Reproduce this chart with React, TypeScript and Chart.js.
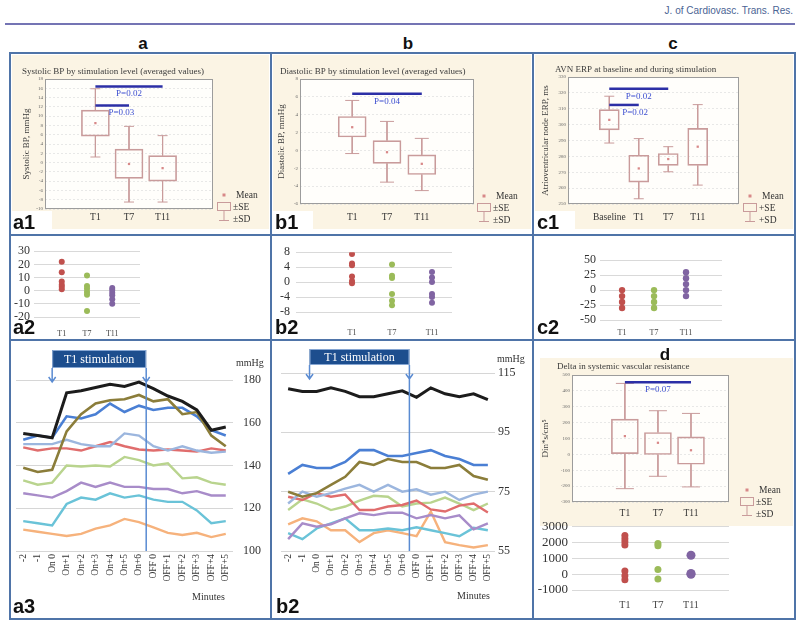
import React, { useEffect, useRef } from "react";
import { Chart, registerables } from "chart.js";

Chart.register(...registerables);

const SERIF = "'Liberation Serif', 'Times New Roman', serif";
const SANS = "'Liberation Sans', Arial, sans-serif";

// ================= DATA =================
const boxCategories = ["T1", "T7", "T11"];
const avnCategories = ["Baseline", "T1", "T7", "T11"];

// a1 – systolic BP by stimulation level
const sysMean = [8.5, -0.3, -1.2];
const sysSeLow = [5.7, -3.4, -4.0];
const sysSeHigh = [11.3, 2.9, 1.5];
const sysSdLow = [1.2, -8.5, -8.5];
const sysSdHigh = [15.9, 7.8, 5.8];
const sysTicks = [-10, -8, -6, -4, -2, 0, 2, 4, 6, 8, 10, 12, 14, 16, 18];
const sysSig = [
  { from: 0, to: 2, level: 16.4, p: "P=0.02" },
  { from: 0, to: 1, level: 12.3, p: "P=0.03" },
];

// b1 – diastolic BP by stimulation level
const diaMean = [2.6, -0.2, -1.5];
const diaSeLow = [1.5, -1.45, -2.7];
const diaSeHigh = [3.8, 1.1, -0.5];
const diaSdLow = [-0.35, -3.55, -4.5];
const diaSdHigh = [5.6, 3.25, 1.35];
const diaTicks = [-6, -4, -2, 0, 2, 4, 6, 8];
const diaSig = [{ from: 0, to: 2, level: 6.35, p: "P=0.04" }];

// c1 – AVN ERP
const avnMean = [303, 272.4, 278.3, 286.1];
const avnSeLow = [296.7, 263.8, 274.3, 274.3];
const avnSeHigh = [309.4, 280.7, 281.8, 297.6];
const avnSdLow = [288.4, 253.3, 270.3, 261.9];
const avnSdHigh = [317.9, 291.2, 286.1, 312.6];
const avnTicks = [250, 260, 270, 280, 290, 300, 310, 320, 330];
const avnSig = [
  { from: 0, to: 2, level: 322.6, p: "P=0.02" },
  { from: 0, to: 1, level: 312.4, p: "P=0.02" },
];

// d – delta in systemic vascular resistance
const svrMean = [115, 73, 26];
const svrSeLow = [5, -1, -62];
const svrSeHigh = [222, 138, 110];
const svrSdLow = [-216, -138, -205];
const svrSdHigh = [447, 275, 258];
const svrTicks = [-300, -200, -100, 0, 100, 200, 300, 400, 500];
const svrSig = [{ from: 0, to: 2, level: 454, p: "P=0.07" }];

// a2 – individual systolic deltas
const a2T1 = [22, 14, 7, 4.5, 3, 1];
const a2T7 = [11.5, 3.5, 1.5, -1, -3, -15.5];
const a2T11 = [2, 0.5, -1.5, -3.5, -6.5, -10];
const a2Ticks = [-20, -10, 0, 10, 20, 30];

// b2 – individual diastolic deltas
const b2T1 = [7.5, 5, 4.5, 1.5, 0.3, -0.3];
const b2T7 = [4.7, 1.7, 1.1, -3.2, -5, -6.2];
const b2T11 = [2.7, 1.2, 0, -3.2, -4, -5.5];
const b2Ticks = [-8, -4, 0, 4, 8];

// c2 – individual AVN ERP deltas
const c2T1 = [0, -10, -20, -30];
const c2T7 = [0, -10, -20, -30];
const c2T11 = [30, 20, 10, 0, -10];
const c2Ticks = [-50, -25, 0, 25, 50];

// d – individual SVR deltas
const dT1 = [2450, 2250, 2050, 1850, 200, -100, -350];
const dT7 = [1950, 1800, 300, -300];
const dT11 = [1200, 50, 0];
const dTicks = [-1000, 0, 1000, 2000, 3000];

// a3 / b3 – minute-by-minute traces
const minutes = [
  "-2", "-1", "On 0", "On+1", "On+2", "On+3", "On+4", "On+5", "On+6",
  "OFF 0", "OFF+1", "OFF+2", "OFF+3", "OFF+4", "OFF+5",
];
const sysBlack = [155, 154, 153, 174, 175, 176.5, 178, 177, 179, 176, 172.5, 170, 166, 156.5, 158];
const sysOlive = [139, 137, 138, 156, 164, 169, 170.5, 171, 173, 170, 171, 164, 165, 154, 149];
const sysBlue = [152, 154, 153, 163, 162, 164, 169, 165, 168, 166, 167, 167, 163, 156.5, 154];
const sysLightBlue = [150, 150, 150, 152, 150, 149, 149, 155, 154, 149, 147, 149, 147, 146, 146.5];
const sysRed = [148.5, 147, 148, 148, 147, 149, 151, 149, 147.5, 147, 147.5, 147, 146.5, 148, 147];
const sysGreen = [133, 131, 132, 140, 139.5, 140, 139.5, 144, 142.5, 140, 141, 134, 134.5, 132, 131];
const sysPurple = [127, 126, 125, 128, 132, 130, 132, 130, 130, 129, 129, 127, 128, 126, 126];
const sysTeal = [114, 113, 112, 122, 125, 124, 127, 125, 126, 124, 123, 123, 119, 113, 114];
const sysOrange = [110, 109, 108, 107, 108, 110.5, 112, 115, 113.5, 111, 108.5, 107.5, 108.5, 106.5, 108];
const sysTraceTicks = [100, 120, 140, 160, 180];

const diaBlack = [109.7, 108.8, 108.8, 110, 108.8, 107, 107, 108, 109, 106.8, 110, 108, 107, 108, 106];
const diaBlue = [81, 84, 83, 83, 85, 89, 89, 87, 87, 88, 89, 87, 86, 84, 84];
const diaOlive = [75, 73.3, 74.5, 77.3, 80, 85, 84, 86, 85, 85, 83, 83, 84, 80.3, 79];
const diaLightBlue = [71, 75, 73.3, 74.5, 76, 77.3, 75, 77.3, 75, 75.8, 74, 75, 72.2, 74, 75];
const diaRed = [73.3, 72.2, 74.5, 73.3, 74, 68.8, 68.8, 70, 70.5, 72, 69, 68.3, 70.3, 71, 68];
const diaGreen = [68.8, 72.4, 71, 68.8, 70, 72, 73.6, 73.3, 70, 71, 71.3, 73, 71, 68.8, 71];
const diaPurple = [59, 64.3, 63.2, 64, 66, 67.7, 67.1, 67.9, 67.9, 66, 67.1, 66, 67, 62.3, 64.3];
const diaTeal = [61, 59, 62.6, 64.3, 66, 62, 62, 62.6, 62, 63, 62, 61, 60, 62.8, 62];
const diaOrange = [64, 66, 65, 62, 62, 58, 61, 62, 61, 60, 68.3, 58, 57, 56.2, 57];
const diaTraceTicks = [55, 75, 95, 115];

// ================= STYLES =================
const BOX_COLOR = "#c99b9b";
const MEAN_COLOR = "#d88888";
const SIG_LINE = "#2c2fa6";
const SIG_TEXT = "#3d4fd0";
const BEIGE = "#fbf4e4";
const FRAME = "#4f74a8";
const DOT_COLORS = ["#c0504d", "#9bbb59", "#8064a2"];
const TRACE_COLORS = ["#1c1c1c", "#8b7d3a", "#4a7fd4", "#9cb6de", "#e06d6d", "#b9d48e", "#a88cc9", "#6ac3d8", "#f6b27c"];
const TRACE_WIDTHS = [3, 2.6, 2.6, 2.4, 2.4, 2.4, 2.4, 2.4, 2.4];

// ================= COMPONENTS =================
function BoxPanel(props: any) {
  const { cats, mean, seLo, seHi, sdLo, sdHi, ticks, sig, title, yTitle, pm, g } = props;
  const ref = useRef<HTMLCanvasElement>(null);
  useEffect(() => {
    const a = g.area;
    const ppu = (a.r - a.l) / (g.xMax - g.xMin);
    const cap = g.capPx / ppu;
    const xs = cats.map((_: string, i: number) => i + 1);
    const boxData = xs.map((x: number, i: number) => ({ x, y: [seLo[i], seHi[i]] }));
    const meanData = xs.map((x: number, i: number) => ({ x, y: mean[i] }));
    const whisk: any[] = [];
    xs.forEach((x: number, i: number) => {
      whisk.push(
        { x, y: sdHi[i] }, { x, y: seHi[i] }, { x, y: null },
        { x, y: seLo[i] }, { x, y: sdLo[i] }, { x, y: null },
        { x: x - cap, y: sdHi[i] }, { x: x + cap, y: sdHi[i] }, { x, y: null },
        { x: x - cap, y: sdLo[i] }, { x: x + cap, y: sdLo[i] }, { x, y: null }
      );
    });
    const sigSets = sig.map((s: any) => ({
      type: "line",
      data: [{ x: s.from + 1, y: s.level }, { x: s.to + 1, y: s.level }],
      borderColor: SIG_LINE,
      borderWidth: 2.5,
      pointRadius: 0,
    }));
    const deco = {
      id: "deco",
      beforeDraw(chart: any) {
        const { ctx, chartArea: c } = chart;
        ctx.save();
        ctx.fillStyle = "#fffefb";
        ctx.fillRect(c.left, c.top, c.right - c.left, c.bottom - c.top);
        ctx.restore();
      },
      afterDraw(chart: any) {
        const { ctx, chartArea: c, scales } = chart;
        const X = scales.x;
        const Y = scales.y;
        ctx.save();
        ctx.strokeStyle = "#9c9c9c";
        ctx.lineWidth = 1;
        ctx.strokeRect(c.left + 0.5, c.top + 0.5, c.right - c.left - 1, c.bottom - c.top - 1);
        ctx.fillStyle = "#3b3b3b";
        ctx.font = `9px ${SERIF}`;
        ctx.textBaseline = "middle";
        ctx.textAlign = "left";
        ctx.fillText(title, g.titleX - g.left, g.titleY - g.top);
        ctx.save();
        ctx.translate(g.yTitleX - g.left, (c.top + c.bottom) / 2);
        ctx.rotate(-Math.PI / 2);
        ctx.textAlign = "center";
        ctx.fillText(yTitle, 0, 0);
        ctx.restore();
        ctx.fillStyle = SIG_TEXT;
        ctx.font = `9px ${SERIF}`;
        ctx.textAlign = "center";
        sig.forEach((s: any) => {
          const x1 = X.getPixelForValue(s.from + 1);
          const x2 = X.getPixelForValue(s.to + 1);
          const w = ctx.measureText(s.p).width;
          const cx = Math.max((x1 + x2) / 2, x1 + w / 2 + 13);
          ctx.fillText(s.p, cx, Y.getPixelForValue(s.level) + 7.5);
        });
        // legend
        const lx = g.legendX - g.left;
        const ly = g.legendY - g.top;
        ctx.fillStyle = MEAN_COLOR;
        ctx.fillRect(lx - 1.5, ly - 1.5, 3, 3);
        ctx.strokeStyle = BOX_COLOR;
        ctx.lineWidth = 1;
        ctx.strokeRect(lx - 6.5, ly + 7.5, 13, 8);
        ctx.beginPath();
        ctx.moveTo(lx, ly + 15.5);
        ctx.lineTo(lx, ly + 25.5);
        ctx.moveTo(lx - 5, ly + 25.5);
        ctx.lineTo(lx + 5, ly + 25.5);
        ctx.stroke();
        ctx.fillStyle = "#333";
        ctx.textAlign = "left";
        ctx.font = `9.5px ${SERIF}`;
        ctx.fillText("Mean", lx + 12, ly);
        ctx.fillText(pm + "SE", lx + 9, ly + 12);
        ctx.fillText(pm + "SD", lx + 9, ly + 24);
        ctx.restore();
      },
    };
    const chart = new Chart(ref.current as HTMLCanvasElement, {
      type: "bar",
      data: {
        datasets: [
          ...sigSets,
          {
            type: "line",
            data: meanData,
            showLine: false,
            pointStyle: "rect",
            pointRadius: 1.6,
            pointBackgroundColor: MEAN_COLOR,
            pointBorderColor: MEAN_COLOR,
            pointBorderWidth: 0,
          },
          {
            type: "line",
            data: whisk,
            borderColor: BOX_COLOR,
            borderWidth: 1,
            pointRadius: 0,
            spanGaps: false,
          },
          {
            type: "bar",
            data: boxData,
            backgroundColor: "rgba(255,255,255,0)",
            borderColor: BOX_COLOR,
            borderWidth: 1,
            borderSkipped: false,
            barThickness: g.boxW,
          },
        ] as any,
      },
      options: {
        animation: false,
        responsive: false,
        maintainAspectRatio: false,
        events: [],
        layout: { padding: { left: 0, top: a.t - g.top, right: g.left + g.width - a.r, bottom: 0 } },
        plugins: { legend: { display: false }, tooltip: { enabled: false } },
        scales: {
          x: {
            type: "linear",
            min: g.xMin,
            max: g.xMax,
            offset: false,
            afterBuildTicks: (s: any) => {
              s.ticks = xs.map((v: number) => ({ value: v }));
            },
            afterFit: (s: any) => {
              s.height = g.top + g.height - a.b;
            },
            ticks: {
              callback: (v: any) => cats[Math.round(v) - 1] ?? "",
              font: { family: SERIF, size: 9.5 },
              color: "#333",
              padding: g.xLabelY - a.b - 5.5,
              maxRotation: 0,
              autoSkip: false,
            },
            grid: { display: false, drawTicks: false },
            border: { display: false },
          },
          y: {
            type: "linear",
            min: ticks[0],
            max: ticks[ticks.length - 1],
            afterBuildTicks: (s: any) => {
              s.ticks = ticks.map((v: number) => ({ value: v }));
            },
            afterFit: (s: any) => {
              s.width = a.l - g.left;
            },
            ticks: {
              font: { family: SERIF, size: 5 },
              color: "#666",
              padding: 2,
              autoSkip: false,
              callback: (v: any) => String(v),
            },
            grid: { color: "#dedede", lineWidth: 0.7, drawTicks: false },
            border: { display: false, dash: [2, 2] },
          },
        },
      } as any,
      plugins: [deco],
    });
    return () => chart.destroy();
  }, []);
  return (
    <canvas
      ref={ref}
      width={g.width}
      height={g.height}
      style={{ position: "absolute", left: g.left, top: g.top, width: g.width, height: g.height }}
    />
  );
}

function ScatterPanel(props: any) {
  const { cats, series, ticks, g } = props;
  const ref = useRef<HTMLCanvasElement>(null);
  useEffect(() => {
    const a = g.area;
    const datasets = series.map((vals: number[], i: number) => ({
      type: "scatter",
      data: vals.map((v) => ({ x: i + 1, y: v })),
      pointRadius: g.radius[i],
      pointBackgroundColor: DOT_COLORS[i],
      pointBorderColor: DOT_COLORS[i],
      pointBorderWidth: 0,
    }));
    const chart = new Chart(ref.current as HTMLCanvasElement, {
      type: "scatter",
      data: { datasets },
      options: {
        animation: false,
        responsive: false,
        maintainAspectRatio: false,
        events: [],
        layout: { padding: { left: 0, top: a.t - g.top, right: g.left + g.width - a.r, bottom: 0 } },
        plugins: { legend: { display: false }, tooltip: { enabled: false } },
        scales: {
          x: {
            type: "linear",
            min: g.xMin,
            max: g.xMax,
            afterBuildTicks: (s: any) => {
              s.ticks = cats.map((_: string, i: number) => ({ value: i + 1 }));
            },
            afterFit: (s: any) => {
              s.height = g.top + g.height - a.b;
            },
            ticks: {
              callback: (v: any) => cats[Math.round(v) - 1] ?? "",
              font: { family: SERIF, size: g.xFont },
              color: "#444",
              padding: g.xLabelY - a.b - g.xFont * 0.6,
              maxRotation: 0,
              autoSkip: false,
            },
            grid: { display: false, drawTicks: false },
            border: { display: false },
          },
          y: {
            type: "linear",
            min: ticks[0],
            max: ticks[ticks.length - 1],
            afterBuildTicks: (s: any) => {
              s.ticks = ticks.map((v: number) => ({ value: v }));
            },
            afterFit: (s: any) => {
              s.width = a.l - g.left;
            },
            ticks: {
              font: { family: SERIF, size: g.yFont },
              color: "#333",
              padding: g.yPad,
              autoSkip: false,
              callback: (v: any) => String(v),
            },
            grid: { color: "#d9d9d9", drawTicks: false },
            border: { display: false },
          },
        },
      } as any,
    });
    return () => chart.destroy();
  }, []);
  return (
    <canvas
      ref={ref}
      width={g.width}
      height={g.height}
      style={{ position: "absolute", left: g.left, top: g.top, width: g.width, height: g.height }}
    />
  );
}

function TracePanel(props: any) {
  const { labels, series, ticks, g, stim } = props;
  const ref = useRef<HTMLCanvasElement>(null);
  useEffect(() => {
    const a = g.area;
    const datasets = series.map((vals: number[], i: number) => ({
      type: "line",
      data: vals,
      borderColor: TRACE_COLORS[i],
      borderWidth: TRACE_WIDTHS[i],
      pointRadius: 0,
      tension: 0,
      fill: false,
    }));
    const stimPlugin = {
      id: "stim",
      afterDraw(chart: any) {
        const { ctx, chartArea: c, scales } = chart;
        const X = scales.x;
        const xl = X.getPixelForValue(stim.from);
        const xr = X.getPixelForValue(stim.to);
        const bt = c.top - stim.boxTop;
        const bb = c.top - stim.boxBottom;
        const tip = c.top + stim.tip;
        ctx.save();
        ctx.strokeStyle = "#5a8bd2";
        ctx.lineWidth = 1.5;
        ctx.beginPath();
        ctx.moveTo(xr, bb);
        ctx.lineTo(xr, c.bottom);
        ctx.moveTo(xl, bb);
        ctx.lineTo(xl, tip);
        [xl, xr].forEach((x) => {
          ctx.moveTo(x - 3.5, tip - 5);
          ctx.lineTo(x, tip);
          ctx.lineTo(x + 3.5, tip - 5);
        });
        ctx.stroke();
        ctx.fillStyle = "#1d4e8e";
        ctx.fillRect(xl, bt, xr - xl, bb - bt);
        ctx.strokeStyle = "#86a6d2";
        ctx.lineWidth = 1;
        ctx.strokeRect(xl + 0.5, bt + 0.5, xr - xl - 1, bb - bt - 1);
        ctx.fillStyle = "#ffffff";
        ctx.font = `12px ${SERIF}`;
        ctx.textAlign = "center";
        ctx.textBaseline = "middle";
        ctx.fillText("T1 stimulation", (xl + xr) / 2, (bt + bb) / 2 + 0.5);
        ctx.restore();
      },
    };
    const chart = new Chart(ref.current as HTMLCanvasElement, {
      type: "line",
      data: { labels, datasets },
      options: {
        animation: false,
        responsive: false,
        maintainAspectRatio: false,
        events: [],
        layout: { padding: { left: a.l - g.left, top: a.t - g.top, right: 0, bottom: 0 } },
        plugins: { legend: { display: false }, tooltip: { enabled: false } },
        scales: {
          x: {
            type: "category",
            offset: true,
            afterFit: (s: any) => {
              s.height = g.top + g.height - a.b;
            },
            ticks: {
              font: { family: SERIF, size: 9.5 },
              color: "#333",
              minRotation: 90,
              maxRotation: 90,
              autoSkip: false,
              padding: 3,
            },
            grid: { display: false, drawTicks: false },
            border: { display: false },
          },
          y: {
            type: "linear",
            position: "right",
            min: ticks[0],
            max: ticks[ticks.length - 1],
            afterBuildTicks: (s: any) => {
              s.ticks = ticks.map((v: number) => ({ value: v }));
            },
            afterFit: (s: any) => {
              s.width = g.left + g.width - a.r;
            },
            ticks: {
              font: { family: SERIF, size: 12 },
              color: "#333",
              padding: g.yPad,
              autoSkip: false,
              callback: (v: any) => String(v),
            },
            grid: { color: "#d6d6d6", drawTicks: false },
            border: { display: false },
          },
        },
      } as any,
      plugins: [stimPlugin],
    });
    return () => chart.destroy();
  }, []);
  return (
    <canvas
      ref={ref}
      width={g.width}
      height={g.height}
      style={{ position: "absolute", left: g.left, top: g.top, width: g.width, height: g.height }}
    />
  );
}

function Txt(props: any) {
  const { x, y, size, bold, family, color, children, center } = props;
  return (
    <div
      style={{
        position: "absolute",
        left: x,
        top: y,
        fontSize: size,
        fontWeight: bold ? 700 : 400,
        fontFamily: family || SANS,
        color: color || "#111",
        lineHeight: 1,
        whiteSpace: "nowrap",
        transform: center ? "translate(-50%, -50%)" : undefined,
      }}
    >
      {children}
    </div>
  );
}

function Rect(props: any) {
  const { l, t, w, h, bg } = props;
  return <div style={{ position: "absolute", left: l, top: t, width: w, height: h, background: bg }} />;
}

export default function App() {
  return (
    <div
      style={{
        position: "absolute",
        left: 0,
        top: 0,
        width: 800,
        height: 626,
        background: "#ffffff",
        overflow: "hidden",
        fontFamily: SANS,
      }}
    >
      {/* header */}
      <div
        style={{
          position: "absolute",
          right: 7,
          top: 5,
          fontSize: 10,
          fontFamily: SANS,
          color: "#4b6494",
          whiteSpace: "nowrap",
        }}
      >
        J. of Cardiovasc. Trans. Res.
      </div>
      <Rect l={5} t={23} w={790} h={2} bg="#7474b4" />
      <Txt x={143} y={43} size={17} bold center>a</Txt>
      <Txt x={408} y={43} size={17} bold center>b</Txt>
      <Txt x={673} y={43} size={17} bold center>c</Txt>

      {/* beige backgrounds */}
      <Rect l={12} t={55} w={257} h={174} bg={BEIGE} />
      <Rect l={273} t={55} w={258} h={174} bg={BEIGE} />
      <Rect l={535} t={55} w={258} h={174} bg={BEIGE} />
      <Rect l={540} t={358} w={253} h={168} bg={BEIGE} />

      {/* row 1 box plots */}
      <BoxPanel
        cats={boxCategories}
        mean={sysMean}
        seLo={sysSeLow}
        seHi={sysSeHigh}
        sdLo={sysSdLow}
        sdHi={sysSdHigh}
        ticks={sysTicks}
        sig={sysSig}
        title="Systolic BP by stimulation level (averaged values)"
        yTitle="Systolic BP, mmHg"
        pm="±"
        g={{
          left: 12, top: 55, width: 257, height: 174,
          area: { l: 45, t: 79, r: 213, b: 209 },
          xMin: -0.5, xMax: 4.5, boxW: 28, capPx: 5, xLabelY: 217,
          titleX: 22, titleY: 72, yTitleX: 27, legendX: 224, legendY: 195,
        }}
      />
      <BoxPanel
        cats={boxCategories}
        mean={diaMean}
        seLo={diaSeLow}
        seHi={diaSeHigh}
        sdLo={diaSdLow}
        sdHi={diaSdHigh}
        ticks={diaTicks}
        sig={diaSig}
        title="Diastolic BP by stimulation level (averaged values)"
        yTitle="Diastolic BP, mmHg"
        pm="±"
        g={{
          left: 273, top: 55, width: 258, height: 174,
          area: { l: 300, t: 79, r: 474, b: 204 },
          xMin: -0.5, xMax: 4.5, boxW: 28, capPx: 7, xLabelY: 217,
          titleX: 280, titleY: 72, yTitleX: 282, legendX: 484, legendY: 196,
        }}
      />
      <BoxPanel
        cats={avnCategories}
        mean={avnMean}
        seLo={avnSeLow}
        seHi={avnSeHigh}
        sdLo={avnSdLow}
        sdHi={avnSdHigh}
        ticks={avnTicks}
        sig={avnSig}
        title="AVN ERP at baseline and during stimulation"
        yTitle="Atrioventricular node ERP, ms"
        pm="+"
        g={{
          left: 535, top: 55, width: 258, height: 174,
          area: { l: 568, t: 77, r: 739, b: 204 },
          xMin: -0.4, xMax: 5.4, boxW: 20, capPx: 5, xLabelY: 217,
          titleX: 555, titleY: 70, yTitleX: 546, legendX: 750, legendY: 196,
        }}
      />

      {/* row 2 dot plots */}
      <ScatterPanel
        cats={boxCategories}
        series={[a2T1, a2T7, a2T11]}
        ticks={a2Ticks}
        g={{
          left: 10, top: 240, width: 137, height: 98,
          area: { l: 34, t: 250, r: 140, b: 317 },
          xMin: -0.1, xMax: 4.1, radius: [3, 3, 3], xFont: 8, yFont: 12, yPad: 4, xLabelY: 334,
        }}
      />
      <ScatterPanel
        cats={boxCategories}
        series={[b2T1, b2T7, b2T11]}
        ticks={b2Ticks}
        g={{
          left: 273, top: 239, width: 185, height: 99,
          area: { l: 296, t: 249, r: 452, b: 312 },
          xMin: -0.4, xMax: 3.5, radius: [3, 3, 3], xFont: 8, yFont: 12, yPad: 6, xLabelY: 333,
        }}
      />
      <ScatterPanel
        cats={boxCategories}
        series={[c2T1, c2T7, c2T11]}
        ticks={c2Ticks}
        g={{
          left: 560, top: 249, width: 168, height: 90,
          area: { l: 600, t: 259, r: 722, b: 320 },
          xMin: 0.31, xMax: 4.125, radius: [3.2, 3.2, 3.2], xFont: 8, yFont: 12, yPad: 4, xLabelY: 333,
        }}
      />

      {/* row 3 traces */}
      <TracePanel
        labels={minutes}
        series={[sysBlack, sysOlive, sysBlue, sysLightBlue, sysRed, sysGreen, sysPurple, sysTeal, sysOrange]}
        ticks={sysTraceTicks}
        stim={{ from: 2, to: 8.5, boxTop: 30, boxBottom: 12, tip: 2 }}
        g={{ left: 12, top: 345, width: 258, height: 248, area: { l: 16, t: 380, r: 233, b: 551 }, yPad: 10 }}
      />
      <TracePanel
        labels={minutes}
        series={[diaBlack, diaOlive, diaBlue, diaLightBlue, diaRed, diaGreen, diaPurple, diaTeal, diaOrange]}
        ticks={diaTraceTicks}
        stim={{ from: 1.5, to: 8.5, boxTop: 24, boxBottom: 8, tip: 6 }}
        g={{ left: 276, top: 345, width: 256, height: 248, area: { l: 281, t: 373, r: 495, b: 551 }, yPad: 3 }}
      />
      <Txt x={236} y={358} size={10} family={SERIF} color="#333">mmHg</Txt>
      <Txt x={192} y={592} size={10} family={SERIF} color="#333">Minutes</Txt>
      <Txt x={497} y={354} size={10} family={SERIF} color="#333">mmHg</Txt>
      <Txt x={457} y={591} size={10} family={SERIF} color="#333">Minutes</Txt>

      {/* d */}
      <BoxPanel
        cats={boxCategories}
        mean={svrMean}
        seLo={svrSeLow}
        seHi={svrSeHigh}
        sdLo={svrSdLow}
        sdHi={svrSdHigh}
        ticks={svrTicks}
        sig={svrSig}
        title="Delta in systemic vascular resistance"
        yTitle="Din*s/cm⁵"
        pm="±"
        g={{
          left: 540, top: 358, width: 253, height: 168,
          area: { l: 572, t: 375, r: 729, b: 502 },
          xMin: -0.6, xMax: 4.15, boxW: 27, capPx: 9, xLabelY: 513,
          titleX: 557, titleY: 367, yTitleX: 546, legendX: 747, legendY: 490,
        }}
      />
      <ScatterPanel
        cats={boxCategories}
        series={[dT1, dT7, dT11]}
        ticks={dTicks}
        g={{
          left: 535, top: 515, width: 200, height: 98,
          area: { l: 572, t: 525, r: 729, b: 590 },
          xMin: -0.6, xMax: 4.15, radius: [3.5, 3.5, 4.5], xFont: 10, yFont: 13, yPad: 4, xLabelY: 605,
        }}
      />
      <Txt x={665} y={354} size={17} bold center>d</Txt>

      {/* panel labels */}
      <Rect l={12} t={211} w={40} h={22} bg="#ffffff" />
      <Rect l={273} t={211} w={40} h={22} bg="#ffffff" />
      <Rect l={535} t={211} w={40} h={22} bg="#ffffff" />
      <Txt x={13} y={212} size={20} bold>a1</Txt>
      <Txt x={275} y={212} size={20} bold>b1</Txt>
      <Txt x={537} y={212} size={20} bold>c1</Txt>
      <Txt x={13} y={317} size={20} bold>a2</Txt>
      <Txt x={275} y={317} size={20} bold>b2</Txt>
      <Txt x={537} y={317} size={20} bold>c2</Txt>
      <Txt x={13} y={596} size={20} bold>a3</Txt>
      <Txt x={276} y={596} size={20} bold>b2</Txt>

      {/* panel frame */}
      <div
        style={{
          position: "absolute",
          left: 9,
          top: 52,
          width: 783,
          height: 564,
          border: `2px solid ${FRAME}`,
        }}
      />
      <Rect l={270} t={52} w={2} h={568} bg={FRAME} />
      <Rect l={532} t={52} w={2} h={568} bg={FRAME} />
      <Rect l={9} t={234} w={787} h={2} bg={FRAME} />
      <Rect l={9} t={339} w={787} h={2} bg={FRAME} />
    </div>
  );
}
